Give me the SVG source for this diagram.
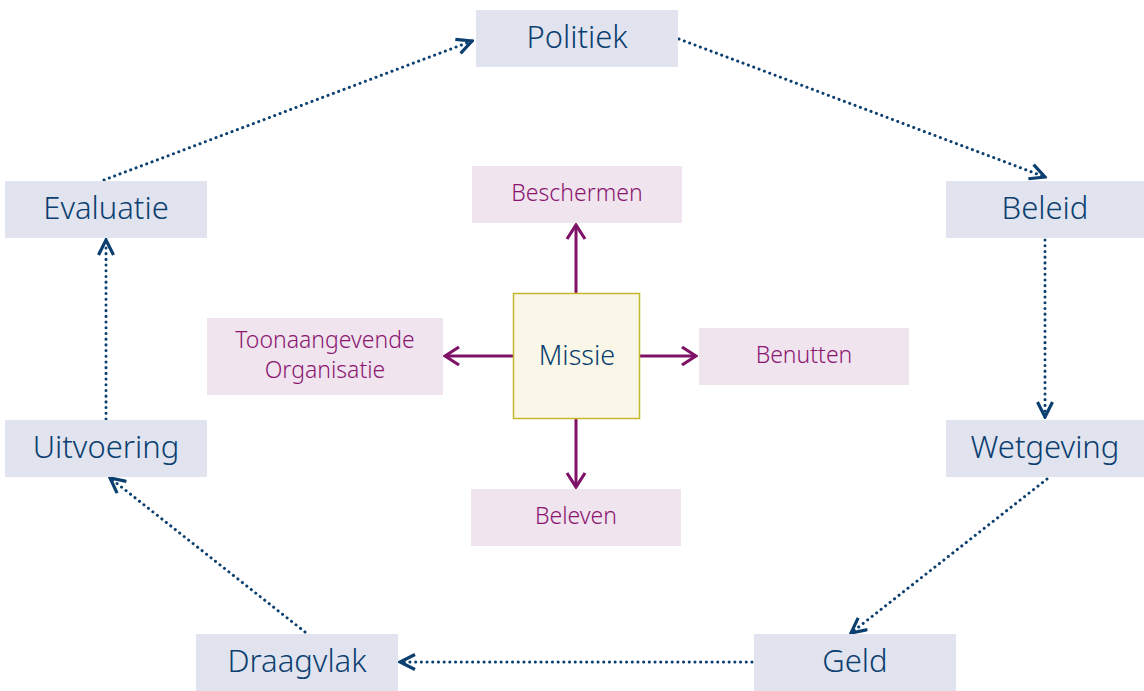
<svg xmlns="http://www.w3.org/2000/svg" width="1144" height="691" viewBox="0 0 1144 691">
<defs>
<style>
.nb{fill:#e1e3ef}
.np{fill:#f0e4ef}
.tb{font-family:"Noto Sans",sans-serif;font-weight:300;font-size:31px;fill:#0b3f70;text-anchor:middle}
.tp{font-family:"Noto Sans",sans-serif;font-weight:300;font-size:23px;fill:#8b1670;text-anchor:middle}
.dot{fill:none;stroke:#0b3f70;stroke-width:3;stroke-dasharray:0.1 5.6;stroke-linecap:round}
.pa{fill:none;stroke:#7e1266;stroke-width:3}
</style>
<marker id="hb" viewBox="-18 -9 20 18" markerWidth="20" markerHeight="18" refX="0" refY="0" orient="auto" markerUnits="userSpaceOnUse">
<path d="M-15,-7.5 L0,0 L-15,7.5" fill="none" stroke="#0b3f70" stroke-width="3.2"/>
</marker>
<marker id="hp" viewBox="-16 -11 18 22" markerWidth="18" markerHeight="22" refX="0" refY="0" orient="auto" markerUnits="userSpaceOnUse">
<path d="M-14,-9 L0,0 L-14,9" fill="none" stroke="#7e1266" stroke-width="3.2"/>
</marker>
</defs>
<rect width="1144" height="691" fill="#ffffff"/>
<g id="connectors">
<line class="dot" x1="104" y1="180" x2="472" y2="41" marker-end="url(#hb)"/>
<line class="dot" x1="679" y1="39" x2="1045" y2="177" marker-end="url(#hb)"/>
<line class="dot" x1="1045" y1="240" x2="1045" y2="417" marker-end="url(#hb)"/>
<line class="dot" x1="1047" y1="479" x2="851" y2="633" marker-end="url(#hb)"/>
<line class="dot" x1="752" y1="662" x2="400" y2="662" marker-end="url(#hb)"/>
<line class="dot" x1="305" y1="632" x2="110" y2="478" marker-end="url(#hb)"/>
<line class="dot" x1="106" y1="419" x2="106" y2="240" marker-end="url(#hb)"/>
<line class="pa" x1="576" y1="293" x2="576" y2="225" marker-end="url(#hp)"/>
<line class="pa" x1="513" y1="356" x2="445" y2="356" marker-end="url(#hp)"/>
<line class="pa" x1="640" y1="356" x2="696" y2="356" marker-end="url(#hp)"/>
<line class="pa" x1="576" y1="419" x2="576" y2="487" marker-end="url(#hp)"/>
</g>
<g id="politiek"><rect class="nb" x="476" y="10" width="202" height="57"/><text class="tb" x="577" y="48">Politiek</text></g>
<g id="beleid"><rect class="nb" x="946" y="181" width="198" height="57"/><text class="tb" x="1045" y="219">Beleid</text></g>
<g id="wetgeving"><rect class="nb" x="946" y="420" width="198" height="57"/><text class="tb" x="1045" y="458">Wetgeving</text></g>
<g id="geld"><rect class="nb" x="754" y="634" width="202" height="57"/><text class="tb" x="855" y="672">Geld</text></g>
<g id="draagvlak"><rect class="nb" x="196" y="634" width="202" height="57"/><text class="tb" x="297" y="672">Draagvlak</text></g>
<g id="uitvoering"><rect class="nb" x="5" y="420" width="202" height="57"/><text class="tb" x="106" y="458">Uitvoering</text></g>
<g id="evaluatie"><rect class="nb" x="5" y="181" width="202" height="57"/><text class="tb" x="106" y="219">Evaluatie</text></g>
<g id="missie"><rect x="513.5" y="293.5" width="126" height="125" fill="#faf7e8" stroke="#c4b82e" stroke-width="1.5"/><text class="tb" x="577" y="365" style="font-size:27px">Missie</text></g>
<g id="beschermen"><rect class="np" x="472" y="166" width="210" height="57"/><text class="tp" x="577" y="201">Beschermen</text></g>
<g id="toonaangevende"><rect class="np" x="207" y="318" width="236" height="77"/><text class="tp" x="325" y="348">Toonaangevende</text><text class="tp" x="325" y="378">Organisatie</text></g>
<g id="benutten"><rect class="np" x="699" y="328" width="210" height="57"/><text class="tp" x="804" y="363">Benutten</text></g>
<g id="beleven"><rect class="np" x="471" y="489" width="210" height="57"/><text class="tp" x="576" y="524">Beleven</text></g>
</svg>
